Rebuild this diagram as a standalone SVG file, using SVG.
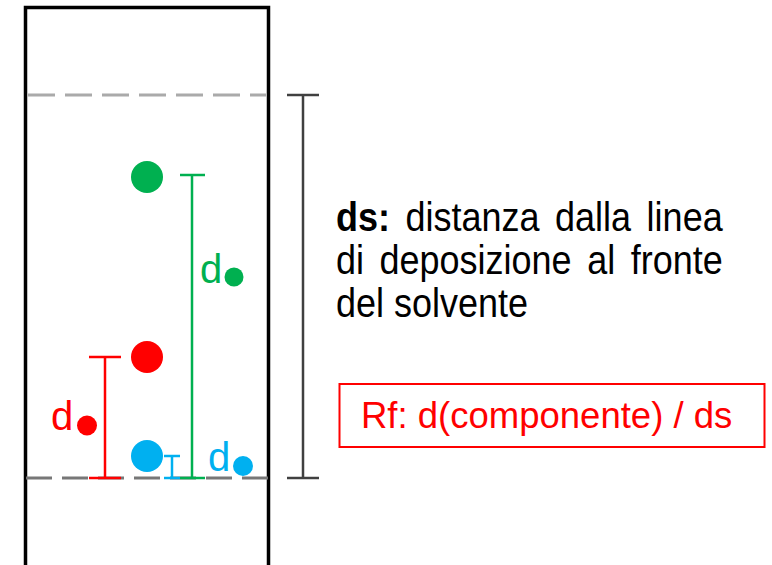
<svg xmlns="http://www.w3.org/2000/svg" width="772" height="565" viewBox="0 0 772 565">
<style>
.t{font-family:"Liberation Sans",Arial,sans-serif;}
.txt{font-size:36px;fill:#000;}
.lab{font-size:40px;}
.br{fill:none;stroke-width:2.5;}
</style>
<rect width="772" height="565" fill="#fff"/>
<g id="plate">
<path d="M25.5,570 V7.5 H268.5 V570" fill="none" stroke="#000" stroke-width="3.5"/>
</g>
<g id="lines">
<line id="solvent-front" x1="28" y1="95" x2="266" y2="95" stroke="#aaa" stroke-width="3" stroke-dasharray="27,10"/>
<line id="deposition-line" x1="26" y1="478" x2="268" y2="478" stroke="#777" stroke-width="3" stroke-dasharray="26,10"/>
</g>
<g id="connectors">
<g id="ds-bar" class="br" stroke="#404040">
<line x1="303" y1="95" x2="303" y2="478"/>
<line x1="287" y1="95" x2="319" y2="95"/>
<line x1="287" y1="478" x2="319" y2="478"/>
</g>
<g id="green-bar" class="br" stroke="#00b050">
<line x1="192" y1="175" x2="192" y2="478"/>
<line x1="180" y1="175" x2="205" y2="175"/>
<line x1="180" y1="478" x2="205" y2="478"/>
</g>
<g id="red-bar" class="br" stroke="#ff0000">
<line x1="105" y1="357" x2="105" y2="478"/>
<line x1="89" y1="357" x2="121" y2="357"/>
<line x1="89" y1="478" x2="121" y2="478"/>
</g>
<g id="blue-bar" class="br" stroke="#00b0f0">
<line x1="172" y1="456" x2="172" y2="478"/>
<line x1="164" y1="456" x2="180" y2="456"/>
<line x1="164" y1="478" x2="180" y2="478"/>
</g>
</g>
<g id="green-spot"><circle cx="147" cy="177" r="16" fill="#00b050"/></g>
<g id="red-spot"><circle cx="147" cy="357" r="16" fill="#ff0000"/></g>
<g id="blue-spot"><circle cx="147" cy="456" r="16" fill="#00b0f0"/></g>
<g id="green-label">
<text class="t lab" x="200" y="283" fill="#00b050">d</text>
<circle cx="234" cy="277" r="9.5" fill="#00b050"/>
</g>
<g id="red-label">
<text class="t lab" x="51" y="430" fill="#ff0000">d</text>
<circle cx="87" cy="425.5" r="10" fill="#ff0000"/>
</g>
<g id="blue-label">
<text class="t lab" x="208" y="471" fill="#00b0f0">d</text>
<circle cx="243" cy="466" r="10" fill="#00b0f0"/>
</g>
<g id="ds-text" class="t txt">
<g transform="translate(0,231) scale(1,1.12)">
<text x="336" y="0" word-spacing="5.5"><tspan font-weight="bold">ds:</tspan> distanza dalla linea</text>
</g>
<g transform="translate(0,274) scale(1,1.12)">
<text x="336" y="0" word-spacing="5.5">di deposizione al fronte</text>
</g>
<g transform="translate(0,317) scale(1,1.12)">
<text x="336" y="0">del solvente</text>
</g>
</g>
<g id="rf-box">
<rect x="339.5" y="384" width="425" height="63" fill="none" stroke="#ff0000" stroke-width="2"/>
<text class="t" x="361" y="428" font-size="36.5" fill="#ff0000">Rf: d(componente) / ds</text>
</g>
</svg>
